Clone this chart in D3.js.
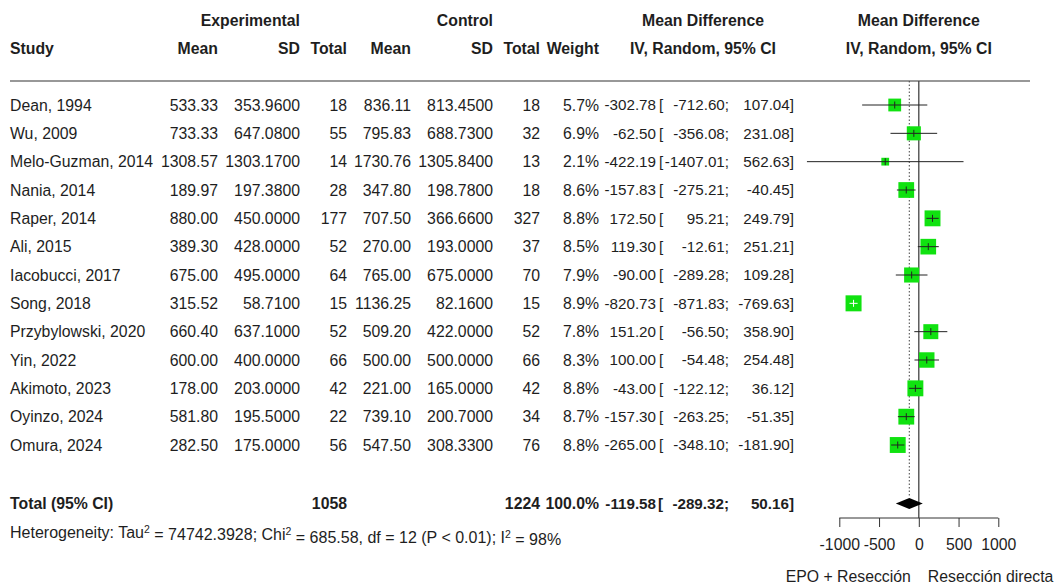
<!DOCTYPE html>
<html>
<head>
<meta charset="utf-8">
<script src="https://cdn.jsdelivr.net/npm/d3@7"></script>
<style>
  body { margin: 0; background: #fff; }
  svg text { font-family: "Liberation Sans", Arial, sans-serif; font-size: 15.8px; fill: #1e1e1e; }
  .b { font-weight: bold; }
  .ci { font-size: 15.2px; }
</style>
</head>
<body>
<svg id="chart" width="1054" height="584"></svg>
<script>
const studies = ['Dean, 1994', 'Wu, 2009', 'Melo-Guzman, 2014', 'Nania, 2014', 'Raper, 2014', 'Ali, 2015',
  'Iacobucci, 2017', 'Song, 2018', 'Przybylowski, 2020', 'Yin, 2022', 'Akimoto, 2023', 'Oyinzo, 2024', 'Omura, 2024'];
const expMean = [533.33, 733.33, 1308.57, 189.97, 880.00, 389.30, 675.00, 315.52, 660.40, 600.00, 178.00, 581.80, 282.50];
const expSD = [353.96, 647.08, 1303.17, 197.38, 450.00, 428.00, 495.00, 58.71, 637.10, 400.00, 203.00, 195.50, 175.00];
const expN = [18, 55, 14, 28, 177, 52, 64, 15, 52, 66, 42, 22, 56];
const ctlMean = [836.11, 795.83, 1730.76, 347.80, 707.50, 270.00, 765.00, 1136.25, 509.20, 500.00, 221.00, 739.10, 547.50];
const ctlSD = [813.45, 688.73, 1305.84, 198.78, 366.66, 193.00, 675.00, 82.16, 422.00, 500.00, 165.00, 200.70, 308.33];
const ctlN = [18, 32, 13, 18, 327, 37, 70, 15, 52, 66, 42, 34, 76];
const weight = [5.7, 6.9, 2.1, 8.6, 8.8, 8.5, 7.9, 8.9, 7.8, 8.3, 8.8, 8.7, 8.8];
const md = [-302.78, -62.50, -422.19, -157.83, 172.50, 119.30, -90.00, -820.73, 151.20, 100.00, -43.00, -157.30, -265.00];
const lower = [-712.60, -356.08, -1407.01, -275.21, 95.21, -12.61, -289.28, -871.83, -56.50, -54.48, -122.12, -263.25, -348.10];
const upper = [107.04, 231.08, 562.63, -40.45, 249.79, 251.21, 109.28, -769.63, 358.90, 254.48, 36.12, -51.35, -181.90];
const total = { label: 'Total (95% CI)', expN: 1058, ctlN: 1224, weight: 100.0, md: -119.58, lower: -289.32, upper: 50.16 };
const ticks = [-1000, -500, 0, 500, 1000];
const labelLeft = 'EPO + Resección';
const labelRight = 'Resección directa';

const svg = d3.select('#chart');
// plain hyphen minus like the original, not d3's unicode minus
const f2 = (v) => v.toFixed(2), f4 = (v) => v.toFixed(4), f1 = (v) => v.toFixed(1);

const x = d3.scaleLinear().domain([-1000, 1000]).range([839.3, 998.3]);
const y = d3.scaleLinear().domain([0, studies.length - 1]).range([105, 445]);
const yTotal = 503.5;
const axisY = 518;

// column right edges
const col = { study: 10, eMean: 218, eSD: 300, eN: 347, cMean: 411, cSD: 493, cN: 540, w: 599, est: 656, br: 659, lo: 729, hi: 794 };

function txt(g, xx, yy, s, anchor, cls) {
  return g.append('text').attr('x', xx).attr('y', yy).attr('dy', '0.35em')
    .attr('text-anchor', anchor || 'end').attr('class', cls || null).text(s);
}

// headers
const h = svg.append('g');
txt(h, col.eSD, 20, 'Experimental', 'end', 'b');
txt(h, col.cSD, 20, 'Control', 'end', 'b');
txt(h, 703, 20, 'Mean Difference', 'middle', 'b');
txt(h, x(0), 20, 'Mean Difference', 'middle', 'b');
txt(h, col.study, 48, 'Study', 'start', 'b');
txt(h, col.eMean, 48, 'Mean', 'end', 'b');
txt(h, col.eSD, 48, 'SD', 'end', 'b');
txt(h, col.eN, 48, 'Total', 'end', 'b');
txt(h, col.cMean, 48, 'Mean', 'end', 'b');
txt(h, col.cSD, 48, 'SD', 'end', 'b');
txt(h, col.cN, 48, 'Total', 'end', 'b');
txt(h, col.w, 48, 'Weight', 'end', 'b');
txt(h, 703, 48, 'IV, Random, 95% CI', 'middle', 'b');
txt(h, x(0), 48, 'IV, Random, 95% CI', 'middle', 'b');

svg.append('line').attr('x1', 10).attr('x2', 1030).attr('y1', 81).attr('y2', 81)
  .attr('stroke', '#333').attr('stroke-width', 1.2);

// table rows
const rows = svg.append('g');
studies.forEach((s, i) => {
  const yy = y(i);
  txt(rows, col.study, yy, s, 'start');
  txt(rows, col.eMean, yy, f2(expMean[i]));
  txt(rows, col.eSD, yy, f4(expSD[i]));
  txt(rows, col.eN, yy, expN[i]);
  txt(rows, col.cMean, yy, f2(ctlMean[i]));
  txt(rows, col.cSD, yy, f4(ctlSD[i]));
  txt(rows, col.cN, yy, ctlN[i]);
  txt(rows, col.w, yy, f1(weight[i]) + '%');
  txt(rows, col.est, yy, f2(md[i]), 'end', 'ci');
  txt(rows, col.br, yy, '[', 'start', 'ci');
  txt(rows, col.lo, yy, f2(lower[i]) + ';', 'end', 'ci');
  txt(rows, col.hi, yy, f2(upper[i]) + ']', 'end', 'ci');
});

// total row
txt(rows, col.study, yTotal, total.label, 'start', 'b');
txt(rows, col.eN, yTotal, total.expN, 'end', 'b');
txt(rows, col.cN, yTotal, total.ctlN, 'end', 'b');
txt(rows, col.w, yTotal, f1(total.weight) + '%', 'end', 'b');
txt(rows, col.est, yTotal, f2(total.md), 'end', 'b ci');
txt(rows, col.br - 1, yTotal, '[', 'start', 'b ci');
txt(rows, col.lo, yTotal, f2(total.lower) + ';', 'end', 'b ci');
txt(rows, col.hi, yTotal, f2(total.upper) + ']', 'end', 'b ci');

// heterogeneity
const het = rows.append('text').attr('x', col.study).attr('y', 532).attr('dy', '0.35em').style('font-size', '16px');
const sup = (t) => het.append('tspan').attr('dy', '-0.45em').style('font-size', '10.5px').text(t);
const norm = (t) => het.append('tspan').attr('dy', '0.45em').text(t);
het.append('tspan').text('Heterogeneity: Tau');
sup('2'); norm(' = 74742.3928; Chi');
sup('2'); norm(' = 685.58, df = 12 (P < 0.01); I');
sup('2'); norm(' = 98%');

// forest plot
const fp = svg.append('g');
fp.append('line').attr('x1', x(0)).attr('x2', x(0)).attr('y1', 81).attr('y2', axisY)
  .attr('stroke', '#444').attr('stroke-width', 1.3);
fp.append('line').attr('x1', x(total.md)).attr('x2', x(total.md)).attr('y1', 81).attr('y2', yTotal - 6)
  .attr('stroke', '#444').attr('stroke-width', 1).attr('stroke-dasharray', '1.5,2');

const k = 16 / Math.sqrt(8.9);
studies.forEach((s, i) => {
  const yy = y(i);
  const side = k * Math.sqrt(weight[i]);
  const inside = x(upper[i]) - x(lower[i]) < side * 0.6;
  fp.append('rect').attr('x', x(md[i]) - side / 2).attr('y', yy - side / 2)
    .attr('width', side).attr('height', side).attr('fill', '#10e210');
  const c = inside ? '#fff' : '#222';
  fp.append('line').attr('x1', x(lower[i])).attr('x2', x(upper[i])).attr('y1', yy).attr('y2', yy)
    .attr('stroke', c).attr('stroke-width', 1);
  fp.append('line').attr('x1', x(md[i])).attr('x2', x(md[i])).attr('y1', yy - 3.5).attr('y2', yy + 3.5)
    .attr('stroke', c).attr('stroke-width', 1);
});

// summary diamond
fp.append('path')
  .attr('d', `M${x(total.lower)},${yTotal} L${x(total.md)},${yTotal - 5.5} L${x(total.upper)},${yTotal} L${x(total.md)},${yTotal + 5.5} Z`)
  .attr('fill', '#000');

// axis
const ax = fp.append('g').attr('transform', `translate(0,${axisY})`)
  .call(d3.axisBottom(x).tickValues(ticks).tickSize(9).tickPadding(12).tickFormat((d) => String(d)));
ax.select('.domain').attr('d', `M${x(-1000)},0H${x(1000)}`).attr('stroke', '#333');
ax.selectAll('.tick line').attr('stroke', '#333');
ax.selectAll('.tick text').attr('font-size', null).attr('font-family', null).attr('fill', null);
ax.attr('font-size', null).attr('font-family', null);

txt(fp, x(0) - 8, 576, labelLeft, 'end');
txt(fp, x(0) + 9, 576, labelRight, 'start');
</script>
</body>
</html>
